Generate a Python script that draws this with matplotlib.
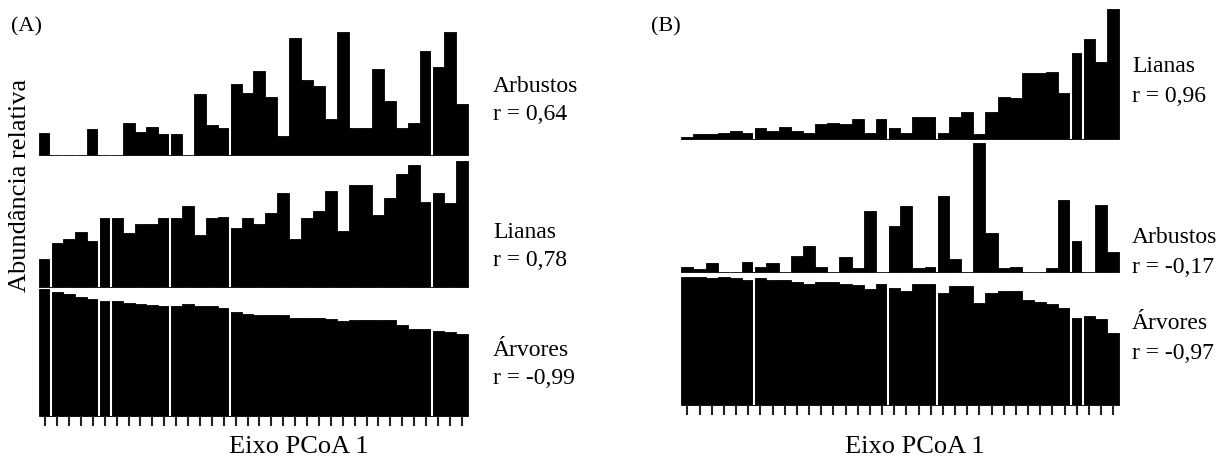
import numpy as np
import matplotlib.pyplot as plt

plt.rcParams['font.family'] = ['Liberation Serif', 'DejaVu Serif']

# parcelas ordenadas ao longo do eixo PCoA 1 (36 em cada painel)
parcelas = np.arange(36)

# (A) abundancia relativa (unidades arbitrarias)
a_arbustos = [67, 0, 0, 0, 77, 0, 0, 95, 68, 85, 62, 62, 0, 183, 90, 80, 212, 185,
              252, 175, 57, 352, 225, 208, 108, 370, 80, 80, 258, 163, 80, 95, 313, 265, 370, 152]
a_lianas = [82, 132, 143, 165, 138, 205, 205, 160, 187, 188, 205, 205, 243, 154, 205, 210, 177, 205,
            188, 222, 282, 143, 205, 227, 288, 167, 306, 306, 215, 265, 338, 366, 255, 282, 250, 378]
a_arvores = [379, 372, 366, 357, 350, 345, 345, 339, 334, 333, 329, 329, 334, 329, 329, 322, 311, 306,
             301, 301, 301, 294, 294, 294, 289, 283, 288, 288, 288, 288, 272, 261, 261, 255, 250, 244]
a_grupos = [0, 4, 5, 10, 15, 32]   # ultima parcela de cada grupo (linhas brancas)

# (B)
b_lianas = [6, 15, 15, 20, 26, 20, 33, 26, 38, 26, 20, 45, 50, 45, 61, 20, 61, 33,
            20, 66, 66, 20, 66, 83, 15, 83, 128, 123, 198, 198, 203, 140, 260, 300, 231, 390]
b_arbustos = [15, 7, 25, 0, 0, 30, 15, 25, 0, 48, 77, 15, 0, 43, 10, 180, 0, 135,
              195, 10, 15, 225, 37, 0, 383, 115, 10, 15, 0, 0, 10, 213, 93, 0, 200, 60]
b_arvores = [385, 385, 380, 385, 380, 375, 380, 375, 375, 368, 363, 370, 370, 363, 360, 347, 363, 352,
             342, 363, 363, 335, 358, 358, 307, 335, 342, 342, 315, 308, 302, 290, 262, 267, 257, 217]
b_grupos = [5, 16, 20, 31, 32]

a_nomes = ['Arbustos', 'Lianas', 'Árvores']
a_r = ['r = 0,64', 'r = 0,78', 'r = -0,99']
b_nomes = ['Lianas', 'Arbustos', 'Árvores']
b_r = ['r = 0,96', 'r = -0,17', 'r = -0,97']

W, H = 1227, 459
fig = plt.figure(figsize=(W / 100, H / 100), dpi=100)


def linha(x0, x1, ytop, ybase, valores, grupos, base=False):
    ax = fig.add_axes([x0 / W, 1 - ybase / H, (x1 - x0) / W, (ybase - ytop) / H])
    barras = ax.bar(parcelas, valores, width=1.0, color='black', edgecolor='black', linewidth=0.6)
    for b in barras:
        b.set_clip_on(False)
    for g in grupos:
        ax.axvline(g + 0.5, color='white', lw=1.5, zorder=3)
    ax.set_xlim(-0.5, len(parcelas) - 0.5)
    ax.set_ylim(0, max(valores))
    for s in ax.spines.values():
        s.set_visible(False)
    ax.set_yticks([])
    if base:
        ax.set_xticks(parcelas)
        ax.set_xticklabels([])
        ax.tick_params(axis='x', direction='out', length=7, width=1.5, color='#222222', pad=2)
    else:
        ax.set_xticks([])
    return ax


def rotulo(x, y, s, size=17, **kw):
    fig.text(x / W, 1 - y / H, s, fontsize=size, va='baseline', **kw)


# painel A
linha(39.3, 467.7, 31.7, 155.0, a_arbustos, a_grupos)
linha(39.3, 467.7, 160.7, 286.7, a_lianas, a_grupos)
linha(39.3, 467.7, 289.4, 415.7, a_arvores, a_grupos, base=True)
for nome, r, yb in zip(a_nomes, a_r, [92, 238, 356]):
    rotulo(493, yb, nome)
    rotulo(493, yb + 27.5, r)

# painel B
linha(681.3, 1119.3, 9.3, 139.3, b_lianas, b_grupos)
linha(681.3, 1119.3, 143.3, 271.7, b_arbustos, b_grupos)
linha(681.3, 1119.3, 276.7, 405.0, b_arvores, b_grupos, base=True)
for nome, r, yb in zip(b_nomes, b_r, [72, 243, 329]):
    rotulo(1132, yb, nome)
    rotulo(1132, yb + 30, r)

rotulo(11, 31.7, '(A)', size=16)
rotulo(651, 31.7, '(B)', size=16)
rotulo(299, 453, 'Eixo PCoA 1', size=19, ha='center')
rotulo(915, 453, 'Eixo PCoA 1', size=19, ha='center')
fig.text(20 / W, 1 - 185.5 / H, 'Abundância relativa', rotation=90, fontsize=19,
         ha='center', va='center')

plt.savefig('out.png', dpi=100)
